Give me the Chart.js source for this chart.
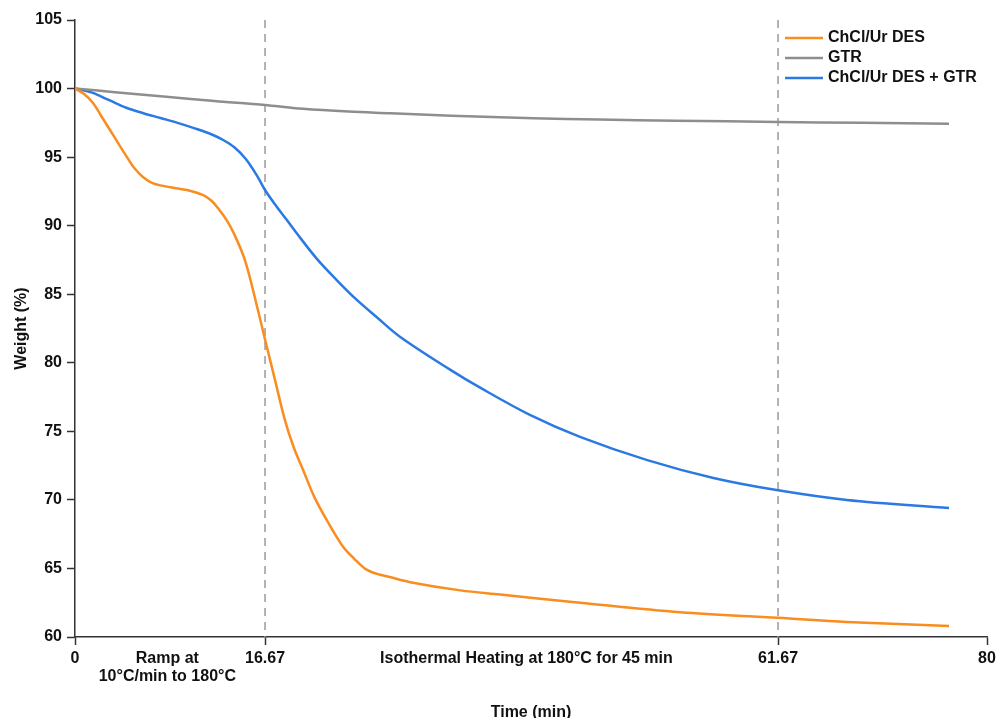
<!DOCTYPE html>
<html>
<head>
<meta charset="utf-8">
<script src="https://cdn.jsdelivr.net/npm/chart.js@4.4.1/dist/chart.umd.min.js"></script>
<style>
  html, body { margin: 0; padding: 0; background: #fff; }
</style>
</head>
<body>
<canvas id="chartTga" width="996" height="718"></canvas>
<script>
// -------------------------------------------------------
// Data (time in min, weight in %)
// -------------------------------------------------------
const desTime   = [0, 0.8, 1.58, 2.3, 3.07, 3.8, 4.56, 5.2, 5.96, 6.8, 7.72, 8.7, 9.82, 11.2, 12, 12.7, 13.3, 13.9, 14.9, 16, 16.67, 17.5, 18.42, 19.2, 20, 21, 22.1, 23.5, 24.5, 25.5, 26.5, 27.5, 29.4, 33.8, 37.3, 44.3, 53.1, 61.67, 67.7, 76.67];
const desWeight = [100, 99.6, 98.95, 98.0, 96.98, 96.0, 95.0, 94.2, 93.55, 93.1, 92.9, 92.75, 92.6, 92.24, 91.8, 91.1, 90.4, 89.5, 87.5, 84.0, 81.7, 78.9, 75.8, 73.8, 72.2, 70.2, 68.5, 66.6, 65.7, 64.95, 64.6, 64.4, 64.0, 63.4, 63.1, 62.5, 61.8, 61.4, 61.1, 60.8];

const gtrTime   = [0, 2, 5, 8, 10.4, 13, 15.3, 16.67, 20, 24, 27.7, 33, 40.2, 46, 52.7, 61.67, 69, 76.67];
const gtrWeight = [100, 99.85, 99.62, 99.4, 99.22, 99.03, 98.9, 98.8, 98.52, 98.32, 98.2, 98.02, 97.84, 97.74, 97.66, 97.56, 97.5, 97.44];

const mixTime   = [0, 1.5, 3, 4.5, 6, 7.5, 9, 10.5, 12, 13, 14, 15, 16, 16.67, 17.5, 18.5, 19.4, 21.2, 23, 24.7, 26.5, 28.5, 32.9, 35.5, 39.9, 44.3, 50.2, 56, 61.67, 67.7, 76.67];
const mixWeight = [100, 99.7, 99.15, 98.6, 98.2, 97.85, 97.5, 97.1, 96.65, 96.25, 95.7, 94.85, 93.6, 92.6, 91.6, 90.5, 89.5, 87.6, 86.0, 84.6, 83.3, 81.9, 79.5, 78.2, 76.2, 74.6, 72.9, 71.6, 70.7, 70.0, 69.4];

// stage boundaries (dashed lines) and x-axis labels
const stageTimes   = [16.67, 61.67];
const markedTicks  = [0, 16.67, 61.67, 80];
const xTickValues  = [0, 8.1, 16.67, 39.6, 61.67, 80];
const xTickLabels  = ['0', ['Ramp at', '10°C/min to 180°C'], '16.67', 'Isothermal Heating at 180°C for 45 min', '61.67', '80'];
const yRange       = [60, 105];

const FONT = { family: '"Liberation Sans", Arial, sans-serif', size: 16, weight: 'bold', lineHeight: 1.15 };
const INK = '#111';
const AXIS = '#333';

const toPoints = (xs, ys) => xs.map((x, i) => ({ x, y: ys[i] }));

function curve(label, xs, ys, color) {
    return {
        label,
        data: toPoints(xs, ys),
        borderColor: color,
        backgroundColor: color,
        borderWidth: 2.5,
        pointRadius: 0,
        tension: 0.35,
        inLegend: true,
        order: 1
    };
}

const stageLines = stageTimes.map(t => ({
    label: 'stage',
    data: [{ x: t, y: yRange[1] }, { x: t, y: yRange[0] }],
    borderColor: '#9a9a9a',
    borderWidth: 1.5,
    borderDash: [8, 6],
    pointRadius: 0,
    tension: 0,
    order: 2
}));

// -------------------------------------------------------
// Legend in the top-right corner, drawn as a plain list
// -------------------------------------------------------
const cornerLegend = {
    id: 'cornerLegend',
    afterDraw(chart) {
        const { ctx, chartArea } = chart;
        const items = chart.data.datasets.filter(d => d.inLegend);
        const x0 = chartArea.right - 202;
        ctx.save();
        ctx.font = 'bold 16px "Liberation Sans", Arial, sans-serif';
        ctx.textBaseline = 'middle';
        items.forEach((d, i) => {
            const y = chartArea.top + 18 + i * 20;
            ctx.strokeStyle = d.borderColor;
            ctx.lineWidth = 2.5;
            ctx.beginPath();
            ctx.moveTo(x0, y);
            ctx.lineTo(x0 + 38, y);
            ctx.stroke();
            ctx.fillStyle = INK;
            ctx.fillText(d.label, x0 + 43, y);
        });
        ctx.restore();
    }
};

new Chart(document.getElementById('chartTga').getContext('2d'), {
    type: 'line',
    data: {
        datasets: [
            curve('ChCl/Ur DES', desTime, desWeight, '#F98D1F'),
            curve('GTR', gtrTime, gtrWeight, '#8E8E8E'),
            curve('ChCl/Ur DES + GTR', mixTime, mixWeight, '#2B79E3'),
            ...stageLines
        ]
    },
    options: {
        responsive: false,
        animation: false,
        layout: { padding: { top: 20, right: 9, bottom: 0, left: 0 } },
        plugins: {
            legend: { display: false },
            tooltip: { enabled: false }
        },
        scales: {
            x: {
                type: 'linear',
                min: 0,
                max: 80,
                afterBuildTicks: s => { s.ticks = xTickValues.map(v => ({ value: v })); },
                afterFit: s => { s.height = 81; s.paddingRight = 9; },
                ticks: {
                    autoSkip: false,
                    maxRotation: 0,
                    padding: 4,
                    color: INK,
                    font: FONT,
                    callback: (v, i) => xTickLabels[i]
                },
                grid: {
                    drawOnChartArea: false,
                    tickLength: 8,
                    tickWidth: 1.5,
                    tickColor: c => (c.tick && markedTicks.includes(c.tick.value)) ? AXIS : 'rgba(0,0,0,0)'
                },
                border: { color: AXIS, width: 1.5 },
                title: {
                    display: true,
                    text: 'Time (min)',
                    color: INK,
                    font: { ...FONT, lineHeight: 1 },
                    padding: { top: 0, bottom: -3 }
                }
            },
            y: {
                min: yRange[0],
                max: yRange[1],
                afterFit: s => { s.width = 75; },
                ticks: { stepSize: 5, padding: 5, color: INK, font: FONT },
                grid: {
                    drawOnChartArea: false,
                    tickLength: 8,
                    tickWidth: 1.5,
                    tickColor: AXIS
                },
                border: { color: AXIS, width: 1.5 },
                title: {
                    display: true,
                    text: 'Weight (%)',
                    color: INK,
                    font: { ...FONT, lineHeight: 1 },
                    padding: { top: 14, bottom: 0 }
                }
            }
        }
    },
    plugins: [cornerLegend]
});
</script>
</body>
</html>
